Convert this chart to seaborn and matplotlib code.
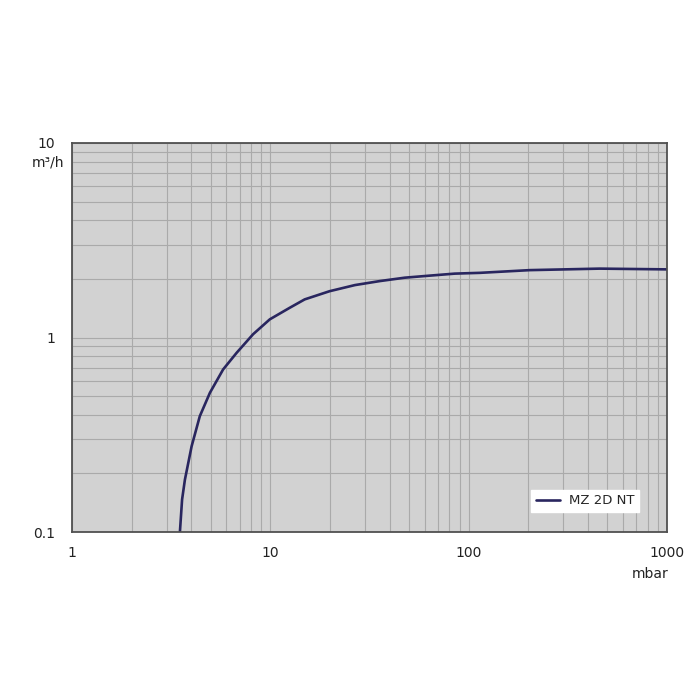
import numpy as np
import pandas as pd
import seaborn as sns
import matplotlib.pyplot as plt
from matplotlib.ticker import LogLocator, FixedLocator, FixedFormatter, NullFormatter

# pumping speed curve
pressure_mbar = [3.5, 3.59, 3.71, 4.01, 4.41, 4.96, 5.78, 6.76, 8.19, 9.94,
                 12.5, 14.9, 19.9, 26.7, 35.6, 47.6, 63.6, 85, 114, 203,
                 457, 1000]
speed_m3h = [0.1, 0.147, 0.186, 0.276, 0.394, 0.52, 0.685, 0.834, 1.04, 1.24,
             1.42, 1.57, 1.73, 1.86, 1.95, 2.03, 2.08, 2.13, 2.15, 2.22,
             2.26, 2.24]
series_name = 'MZ 2D NT'

x_ticks = [1, 10, 100, 1000]
x_labels = ['1', '10', '100', '1000']
y_ticks = [0.1, 1, 10]
y_labels = ['0.1', '1', '10']

sns.set_style('white')
plt.rcParams['font.family'] = ['DejaVu Sans']

df = pd.DataFrame({'p': pressure_mbar, 's': speed_m3h, 'name': series_name})

fig = plt.figure(figsize=(7, 7), dpi=100)
ax = fig.add_axes([72 / 700, 168 / 700, 595 / 700, 389 / 700])
ax.set_facecolor('#d2d2d2')

sns.lineplot(data=df, x='p', y='s', hue='name', palette=['#29265f'],
             linewidth=1.9, ax=ax, sort=False)
for ln in ax.get_lines():
    ln.set_solid_joinstyle('round')

ax.set_xscale('log')
ax.set_yscale('log')
ax.set_xlim(1, 1000)
ax.set_ylim(0.1, 10)

ax.xaxis.set_major_locator(FixedLocator(x_ticks))
ax.xaxis.set_major_formatter(FixedFormatter(x_labels))
ax.yaxis.set_major_locator(FixedLocator(y_ticks))
ax.yaxis.set_major_formatter(FixedFormatter(y_labels))
ax.xaxis.set_minor_locator(LogLocator(base=10, subs=np.arange(2, 10)))
ax.yaxis.set_minor_locator(LogLocator(base=10, subs=np.arange(2, 10)))
ax.xaxis.set_minor_formatter(NullFormatter())
ax.yaxis.set_minor_formatter(NullFormatter())

ax.grid(True, which='both', color='#aaaaaa', linewidth=0.8)
ax.set_axisbelow(True)
ax.tick_params(which='both', length=0, labelsize=10, colors='#222222')
ax.tick_params(axis='x', pad=10)
ax.tick_params(axis='y', pad=12)
for sp in ax.spines.values():
    sp.set_color('#505050')
    sp.set_linewidth(1.3)

ax.set_xlabel('')
ax.set_ylabel('')
fig.text(48 / 700, 1 - 163 / 700, 'm³/h', ha='center', va='center',
         fontsize=10, color='#222222')
fig.text(650 / 700, 1 - 574 / 700, 'mbar', ha='center', va='center',
         fontsize=10, color='#222222')

# legend box sits just above the bottom-right corner
leg = ax.legend(loc='lower right', bbox_to_anchor=(0.953, 0.052),
                borderaxespad=0, frameon=True, fancybox=False, fontsize=9.5,
                handlelength=1.8, handletextpad=0.7, borderpad=0.35)
leg.get_frame().set_edgecolor('white')
leg.get_frame().set_facecolor('white')
leg.get_frame().set_alpha(1)

fig.savefig('out.png', dpi=100)
